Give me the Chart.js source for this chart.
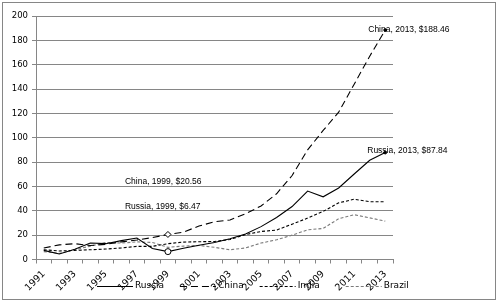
<!DOCTYPE html>
<html lang="en">
<head>
    <meta charset="UTF-8">
    <title>BRIC military spending</title>
    <style>
        body { margin: 0; background: #fff; }
        canvas { display: block; }
    </style>
    <script src="https://cdn.jsdelivr.net/npm/chart.js"></script>
</head>
<body>
    <canvas id="chart" width="498" height="303"></canvas>

    <script>
        // Data (billions, current US$)
        var years = ['1991', '1992', '1993', '1994', '1995', '1996', '1997', '1998', '1999', '2000', '2001', '2002',
                     '2003', '2004', '2005', '2006', '2007', '2008', '2009', '2010', '2011', '2012', '2013'];
        var russia = [7.5, 4.5, 8.5, 13.5, 13, 15.5, 17.6, 9, 6.47, 9.2, 11.7, 13.9,
                      17, 21, 27, 34.5, 43.5, 56.2, 51.5, 58.7, 70.2, 81.5, 87.84];
        var china = [9.5, 12, 13, 11.5, 12.5, 14.5, 16, 18, 20.56, 22.5, 27.5, 31,
                     32.5, 37.5, 44, 54, 69, 90, 106, 121, 144, 167, 188.46];
        var india = [8, 7, 7.5, 8, 8.6, 9.5, 10.8, 10.8, 13, 14.3, 14.6, 14.8,
                     16.4, 20.5, 23, 24.2, 29, 34, 39.5, 46.5, 49.5, 47.5, 47.4];
        var brazil = [6.5, 5, 8, 11, 14, 13.5, 14.5, 14, 10, 11, 11.5, 10,
                      8, 9.5, 13.5, 16.2, 20, 24.4, 25.5, 33.5, 36.8, 34.2, 31.5];
        var yTicks = [0, 20, 40, 60, 80, 100, 120, 140, 160, 180, 200];

        // labelled points: series name + year
        var notes = [
            { series: 'China', year: '2013', dx: -17, dy: 0 },
            { series: 'Russia', year: '2013', dx: -18, dy: -2 },
            { series: 'China', year: '1999', dx: -43, dy: -53 },
            { series: 'Russia', year: '1999', dx: -43, dy: -45 }
        ];

        var GRID = '#868686';
        var TICK_FONT = { family: 'DejaVu Sans', size: 8.5 };

        function marker(openStyle) {
            return {
                radius: function(c) {
                    var y = years[c.dataIndex];
                    if (y === '1999') return 3;
                    if (y === '2013') return 1.4;
                    return 0;
                },
                style: function(c) {
                    return years[c.dataIndex] === '1999' ? openStyle : 'circle';
                },
                bg: function(c) {
                    return years[c.dataIndex] === '1999' ? '#fff' : '#000';
                }
            };
        }

        function series(label, values, color, dash, openStyle) {
            var m = marker(openStyle);
            return {
                label: label,
                data: values,
                borderColor: color,
                borderWidth: 1.1,
                borderDash: dash,
                fill: false,
                tension: 0,
                pointRadius: openStyle ? m.radius : 0,
                pointStyle: m.style,
                pointBackgroundColor: m.bg,
                pointBorderColor: '#000',
                pointBorderWidth: 1
            };
        }

        // Outer frame, annotations and the legend (which sits over the tick labels)
        var extras = {
            id: 'extras',
            beforeDraw: function(chart) {
                var ctx = chart.ctx;
                ctx.save();
                ctx.fillStyle = '#fff';
                ctx.fillRect(0, 0, chart.width, chart.height);
                ctx.restore();
            },
            afterDraw: function(chart) {
                var ctx = chart.ctx;
                var xs = chart.scales.x, ys = chart.scales.y;
                ctx.save();

                ctx.strokeStyle = GRID;
                ctx.lineWidth = 1;
                ctx.strokeRect(2.5, 2.5, 493, 297);

                // point labels
                ctx.fillStyle = '#000';
                ctx.font = '8.5px "Liberation Sans"';
                ctx.textBaseline = 'middle';
                notes.forEach(function(n) {
                    var ds = chart.data.datasets.find(function(d) { return d.label === n.series; });
                    var i = years.indexOf(n.year);
                    var v = ds.data[i];
                    var px = xs.getPixelForValue(i), py = ys.getPixelForValue(v);
                    ctx.fillText(n.series + ', ' + n.year + ', $' + v.toFixed(2), px + n.dx, py + n.dy);
                });

                // legend
                ctx.font = '9px "DejaVu Sans"';
                var x = 97, y = 286;
                chart.data.datasets.forEach(function(d, k) {
                    ctx.strokeStyle = d.borderColor;
                    ctx.lineWidth = 1.1;
                    ctx.setLineDash(d.borderDash || []);
                    ctx.beginPath();
                    ctx.moveTo(x, y + 0.5);
                    ctx.lineTo(x + 36, y + 0.5);
                    ctx.stroke();
                    ctx.setLineDash([]);
                    ctx.fillStyle = '#000';
                    ctx.fillText(d.label, x + 38, y);
                    x += 38 + ctx.measureText(d.label).width + (k === 2 ? 26 : 16);
                });
                ctx.restore();
            }
        };

        new Chart(document.getElementById('chart').getContext('2d'), {
            type: 'line',
            data: {
                labels: years,
                datasets: [
                    series('Russia', russia, '#000', [], 'circle'),
                    series('China', china, '#000', [7, 4], 'rectRot'),
                    series('India', india, '#000', [3, 2], null),
                    series('Brazil', brazil, '#7a7a7a', [3, 2], null)
                ]
            },
            options: {
                responsive: false,
                animation: false,
                devicePixelRatio: 1,
                layout: { padding: { left: 2, right: 105, top: 16, bottom: 0 } },
                plugins: {
                    legend: { display: false },
                    tooltip: { enabled: false }
                },
                scales: {
                    x: {
                        offset: true,
                        afterFit: function(s) { s.height = 43.5; },
                        grid: { drawOnChartArea: false, drawTicks: true, tickLength: 4, color: GRID, offset: true },
                        border: { color: GRID },
                        ticks: {
                            autoSkip: false,
                            minRotation: 45,
                            maxRotation: 45,
                            padding: 5,
                            color: '#000',
                            font: { family: 'DejaVu Sans', size: 9.5 },
                            callback: function(v, i) { return i % 2 === 0 ? years[i] : ''; }
                        }
                    },
                    y: {
                        min: 0,
                        max: 200,
                        afterFit: function(s) { s.width = 34; },
                        afterBuildTicks: function(s) { s.ticks = yTicks.map(function(v) { return { value: v }; }); },
                        grid: { color: GRID, tickLength: 4 },
                        border: { color: GRID },
                        ticks: { color: '#000', font: TICK_FONT, padding: 4 }
                    }
                }
            },
            plugins: [extras]
        });
    </script>
</body>
</html>
